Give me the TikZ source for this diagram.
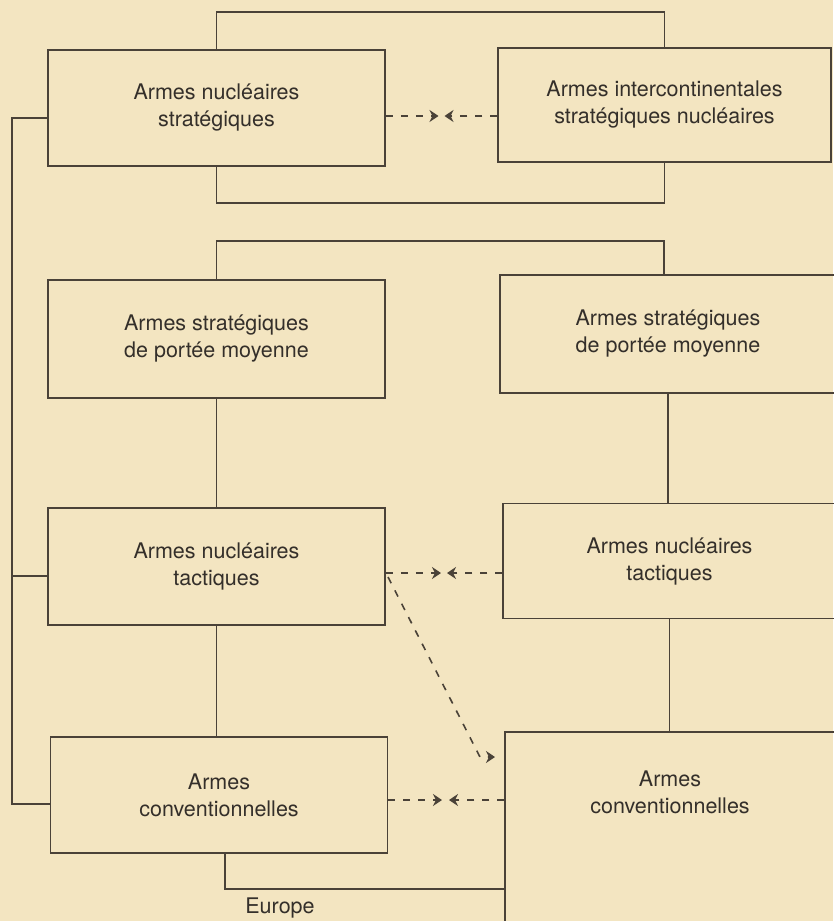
\documentclass[tikz,border=0pt]{standalone}
\usepackage{fontspec}
\setmainfont{TeX Gyre Heros}
\usetikzlibrary{arrows.meta}
\definecolor{paper}{RGB}{243,229,193}
\definecolor{ink}{RGB}{74,66,56}
\definecolor{txtc}{RGB}{52,47,42}
\begin{document}
\begin{tikzpicture}[x=1pt,y=-1pt,
  box/.style={draw=ink, line width=1.5pt, rectangle, inner sep=0pt, align=center,
    font=\fontsize{21.5}{27}\selectfont, text=txtc},
  lbl/.style={align=center, inner sep=0pt, font=\fontsize{21.5}{27}\selectfont, text=txtc},
  conn/.style={draw=ink, line width=1.5pt},
  dashline/.style={draw=ink, line width=1.6pt, dash pattern=on 7pt off 8pt},
  tip/.style={-{Stealth[length=9pt,width=12pt,inset=3pt]}}]
\fill[paper] (0,0) rectangle (833,921);
\useasboundingbox (0,0) rectangle (833,921);

% boxes
\node[box, minimum width=337pt, minimum height=116pt] (b1) at (216.5,108) {Armes nucléaires\\stratégiques};
\node[box, minimum width=333pt, minimum height=114pt] (b2) at (664.5,105) {Armes intercontinentales\\stratégiques nucléaires};
\node[box, minimum width=337pt, minimum height=118pt] (b3) at (216.5,339) {Armes stratégiques\\de portée moyenne};
\node[box, minimum width=336pt, minimum height=118pt] (b4) at (668,334) {Armes stratégiques\\de portée moyenne};
\node[box, minimum width=337pt, minimum height=117pt] (b5) at (216.5,566.5) {Armes nucléaires\\tactiques};
\node[box, minimum width=333pt, minimum height=115pt] (b6) at (669.5,561) {Armes nucléaires\\tactiques};
\node[box, minimum width=337pt, minimum height=116pt] (b7) at (219,795) {Armes\\conventionnelles};
\node[box, minimum width=331pt, minimum height=208pt] (b8) at (670.5,836) {};
\node[lbl] (b8t) at (670,792) {Armes\\conventionnelles};
\node[lbl] (eu) at (280,908) {Europe};

% solid connectors
\coordinate (t1) at (0,12);
\coordinate (t2) at (0,203);
\coordinate (t3) at (0,241);
\coordinate (t4) at (0,889);
\coordinate (L) at (12,0);
\draw[conn] (b1.north) -- (b1.north |- t1) -| (b2.north);
\draw[conn] (b1.south) -- (b1.south |- t2) -| (b2.south);
\draw[conn] (b3.north) -- (b3.north |- t3) -| ([xshift=-4pt]b4.north);
\draw[conn] (b3.south) -- (b5.north);
\draw[conn] (b4.south) -- (b4.south |- b6.north);
\draw[conn] (b5.south) -- (b5.south |- b7.north);
\draw[conn] (b6.south) -- (b6.south |- b8.north);
\draw[conn] ([xshift=6pt]b7.south) -- ([xshift=6pt]b7.south |- t4) -- (b8.west |- t4);
\draw[conn] ([yshift=-10pt]b1.west) -| ([yshift=-9pt]b7.west -| L) -- ([yshift=-9pt]b7.west);
\draw[conn] ([yshift=-9.5pt]b5.west) -- ([yshift=-9.5pt]b5.west -| L);

% dashed arrows
\coordinate (y1) at (0,116);
\coordinate (y2) at (0,573);
\coordinate (y3) at (0,800);
\coordinate (m1l) at (438.5,116);
\coordinate (m1r) at (444.5,116);
\coordinate (m2l) at (441,573);
\coordinate (m2r) at (447,573);
\coordinate (m3l) at (442,800);
\coordinate (m3r) at (449,800);
\draw[dashline,tip] (b1.east |- y1) -- (m1l);
\draw[dashline,tip] (b2.west |- y1) -- (m1r);
\draw[dashline,tip] (b5.east |- y2) -- (m2l);
\draw[dashline,tip] (b6.west |- y2) -- (m2r);
\draw[dashline,tip] (b7.east |- y3) -- (m3l);
\draw[dashline,tip] (b8.west |- y3) -- (m3r);
\coordinate (d0) at (388,577);
\coordinate (d1) at (480,757);
\coordinate (d2) at (495,757);
\draw[dashline,tip] (d0) -- (d1) -- (d2);
\end{tikzpicture}
\end{document}
